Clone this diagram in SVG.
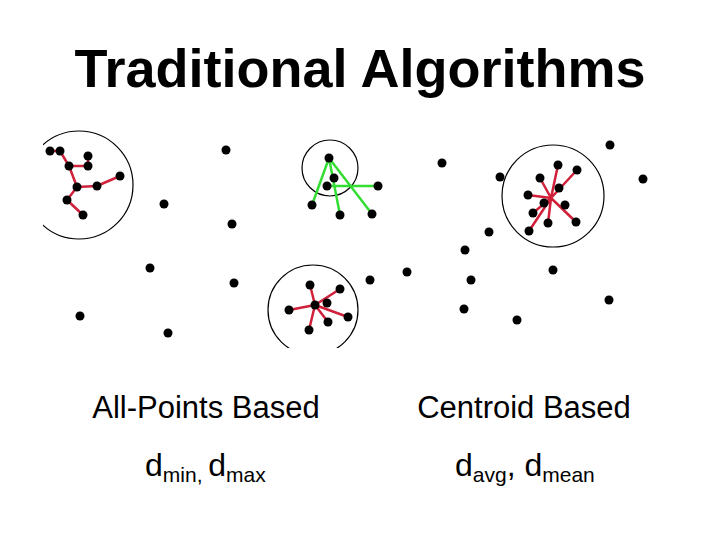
<svg xmlns="http://www.w3.org/2000/svg" width="720" height="540" viewBox="0 0 720 540">
<style>
.d{fill:#000}
.c{fill:none;stroke:#000;stroke-width:1.2}
.r{fill:none;stroke:#d0203a;stroke-width:2.5}
.g{fill:none;stroke:#33dd33;stroke-width:2.5}
text{font-family:"Liberation Sans",Arial,sans-serif;fill:#000}
</style>
<defs><clipPath id="cp"><rect x="43" y="120" width="677" height="228"/></clipPath></defs>
<rect width="720" height="540" fill="#fff"/>
<text x="360" y="87" font-size="54" font-weight="bold" text-anchor="middle">Traditional Algorithms</text>
<g clip-path="url(#cp)">
<g id="circles">
<circle class="c" cx="79" cy="185" r="54"/>
<circle class="c" cx="330" cy="168" r="28"/>
<circle class="c" cx="313" cy="310" r="45"/>
<circle class="c" cx="553" cy="196" r="51"/>
</g>
<g id="connectors">
<path class="r" d="M50,151L60,151L69,166L88,166L88,156M69,166L77,187L97,186L120,176M77,187L67,200L83,215"/>
<path class="g" d="M329,158L312,205M329,158L340,215M329,158L372,214M327,186L378,186"/>
<path class="r" d="M315,305L310,285M315,305L340,289M315,305L289,310M315,305L348,317M315,305L328,322M315,305L309,330"/>
<path class="r" d="M551,198L558,165M551,198L577,170M551,198L540,178M551,198L528,195M551,198L576,222M551,198L548,223M551,198L529,231M551,198L533,213"/>
</g>
<g id="points" class="d">
<circle cx="50" cy="151" r="4.5"/><circle cx="60" cy="151" r="4.5"/><circle cx="88" cy="156" r="4.5"/><circle cx="69" cy="166" r="4.5"/><circle cx="88" cy="166" r="4.5"/><circle cx="77" cy="187" r="4.5"/><circle cx="97" cy="186" r="4.5"/><circle cx="120" cy="176" r="4.5"/><circle cx="67" cy="200" r="4.5"/><circle cx="83" cy="215" r="4.5"/>
<circle cx="226" cy="150" r="4.5"/><circle cx="164" cy="204" r="4.5"/><circle cx="232" cy="224" r="4.5"/><circle cx="150" cy="268" r="4.5"/><circle cx="234" cy="283" r="4.5"/><circle cx="80" cy="316" r="4.5"/><circle cx="168" cy="333" r="4.5"/><circle cx="370" cy="280" r="4.5"/>
<circle cx="329" cy="158" r="4.5"/><circle cx="334" cy="178" r="4.5"/><circle cx="327" cy="186" r="4.5"/><circle cx="378" cy="186" r="4.5"/><circle cx="312" cy="205" r="4.5"/><circle cx="340" cy="215" r="4.5"/><circle cx="372" cy="214" r="4.5"/>
<circle cx="310" cy="285" r="4.5"/><circle cx="340" cy="289" r="4.5"/><circle cx="327" cy="303" r="4.5"/><circle cx="315" cy="305" r="4.5"/><circle cx="289" cy="310" r="4.5"/><circle cx="348" cy="317" r="4.5"/><circle cx="328" cy="322" r="4.5"/><circle cx="309" cy="330" r="4.5"/>
<circle cx="442" cy="163" r="4.5"/><circle cx="500" cy="177" r="4.5"/><circle cx="407" cy="272" r="4.5"/><circle cx="610" cy="145" r="4.5"/><circle cx="643" cy="179" r="4.5"/><circle cx="489" cy="232" r="4.5"/><circle cx="465" cy="250" r="4.5"/><circle cx="471" cy="280" r="4.5"/><circle cx="553" cy="270" r="4.5"/><circle cx="464" cy="309" r="4.5"/><circle cx="517" cy="320" r="4.5"/><circle cx="609" cy="300" r="4.5"/>
<circle cx="558" cy="165" r="4.5"/><circle cx="577" cy="170" r="4.5"/><circle cx="540" cy="178" r="4.5"/><circle cx="559" cy="188" r="4.5"/><circle cx="528" cy="195" r="4.5"/><circle cx="544" cy="203" r="4.5"/><circle cx="565" cy="205" r="4.5"/><circle cx="533" cy="213" r="4.5"/><circle cx="548" cy="223" r="4.5"/><circle cx="576" cy="222" r="4.5"/><circle cx="529" cy="231" r="4.5"/>
</g>
</g>
<g id="labels" font-size="31">
<text x="206" y="418" text-anchor="middle">All-Points Based</text>
<text x="524" y="418" text-anchor="middle">Centroid Based</text>
<text x="145" y="476" font-size="32">d<tspan font-size="21" dy="6">min, </tspan><tspan dy="-6">d</tspan><tspan font-size="21" dy="6">max</tspan></text>
<text x="455" y="476" font-size="32">d<tspan font-size="21" dy="6">avg</tspan><tspan dy="-6">, d</tspan><tspan font-size="21" dy="6">mean</tspan></text>
</g>
</svg>
